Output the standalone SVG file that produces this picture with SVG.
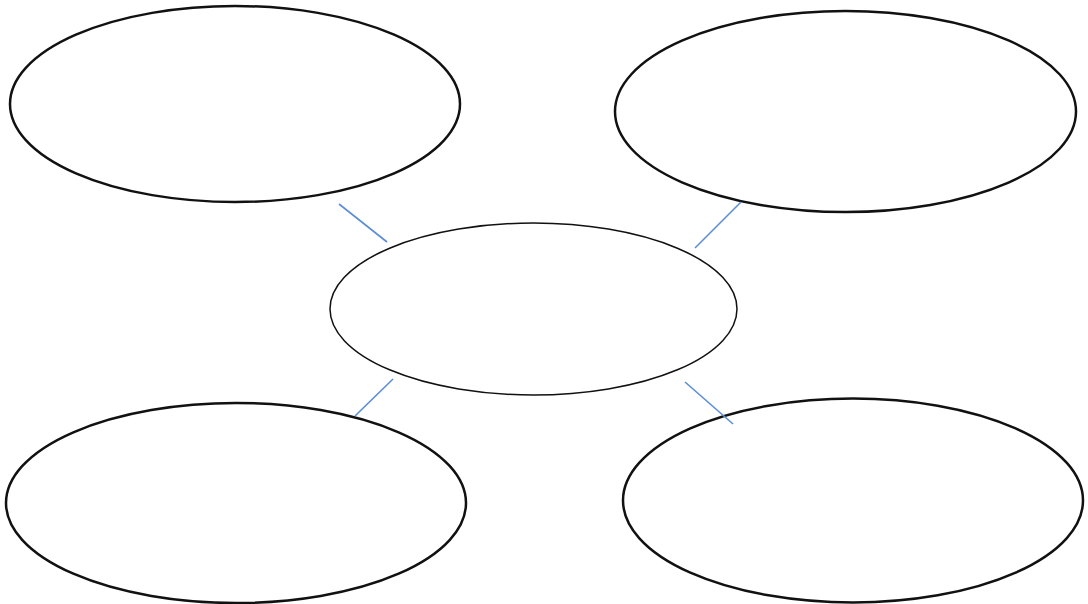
<svg xmlns="http://www.w3.org/2000/svg" width="1088" height="604" viewBox="0 0 1088 604">
<style>
.outer{fill:#fff;stroke:#111;stroke-width:2.5}
.center{fill:#fff;stroke:#111;stroke-width:1.5}
.conn{stroke:#5b8dd9;stroke-width:1.6;fill:none}
</style>
<rect width="1088" height="604" fill="#fff"/>
<g id="node-top-left"><ellipse class="outer" cx="235" cy="104" rx="225" ry="98"/></g>
<g id="node-top-right"><ellipse class="outer" cx="845.5" cy="111.5" rx="230.5" ry="100.5"/></g>
<g id="node-center"><ellipse class="center" cx="533.5" cy="309" rx="203.5" ry="86"/></g>
<g id="node-bottom-left"><ellipse class="outer" cx="236" cy="503" rx="230" ry="100"/></g>
<g id="node-bottom-right"><ellipse class="outer" cx="853" cy="500.5" rx="230" ry="102"/></g>
<g id="connectors">
<line class="conn" x1="339" y1="204" x2="387" y2="242"/>
<line class="conn" x1="741" y1="202" x2="695" y2="248"/>
<line class="conn" x1="393" y1="379" x2="355" y2="416"/>
<line class="conn" x1="685" y1="382" x2="733" y2="424"/>
</g>
</svg>
